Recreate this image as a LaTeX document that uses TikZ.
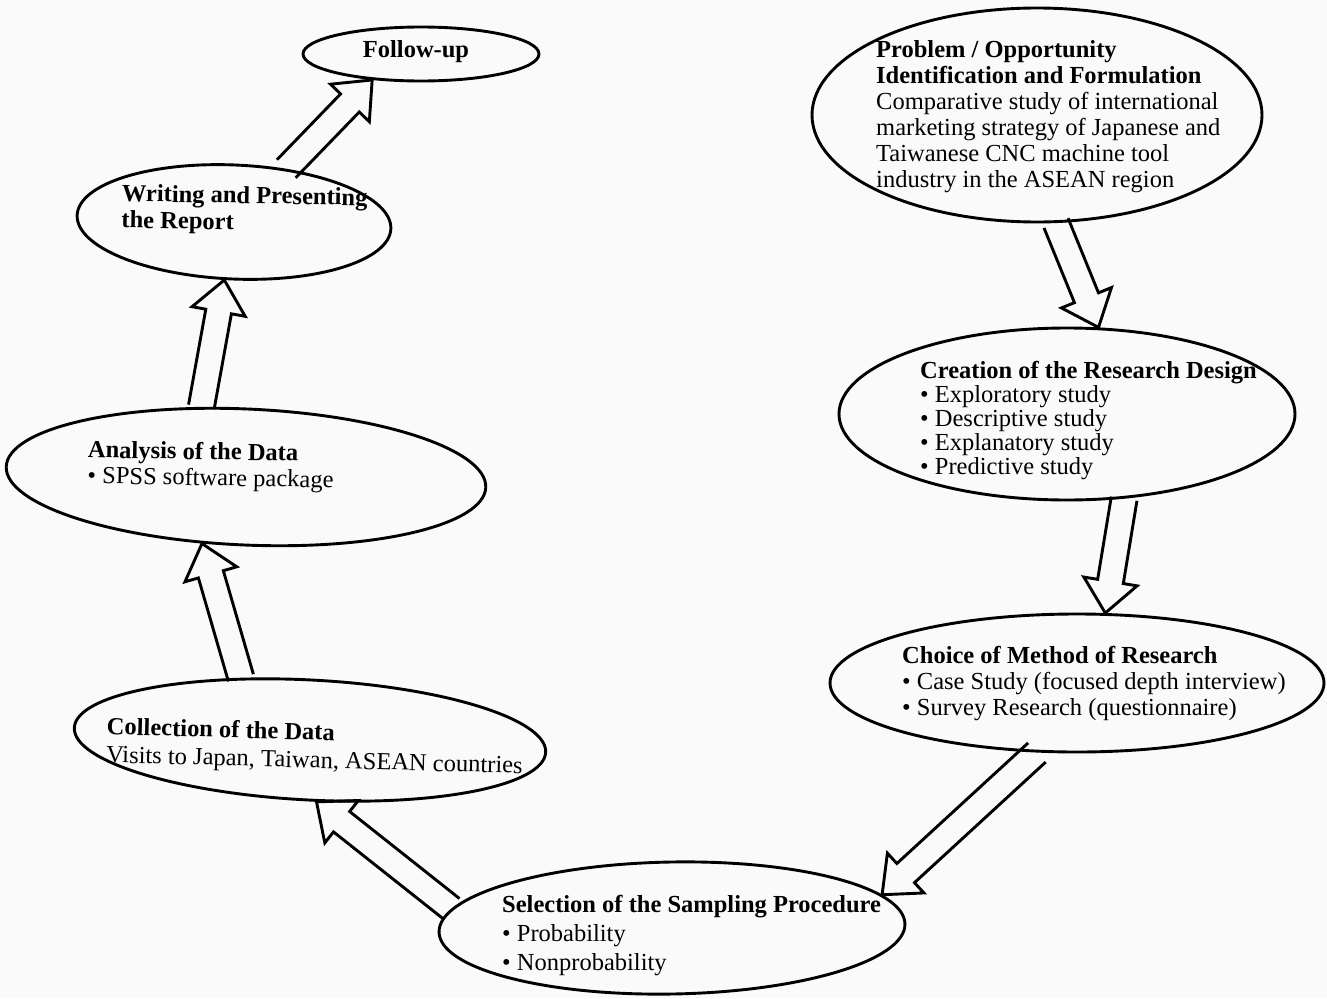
\documentclass[tikz,border=0pt]{standalone}
\usepackage{fontspec}
\setmainfont{Liberation Serif}
\usetikzlibrary{calc,shapes.geometric}
\tikzset{
  stage/.style={draw, ellipse, line width=2.9pt, inner sep=0pt},
  lbl/.style={anchor=north west, inner sep=0pt, align=left,
    font=\fontsize{24.5}{#1}\selectfont},
  lbl/.default=25,
  flow/.style={draw, line width=2.9pt, line join=miter},
}
% hollow block arrow from a border point #1 to a border point #2
\newcommand\blockarrow[2]{%
  \coordinate (ba-h) at ($(#2)!32pt!(#1)$);
  \draw[flow] ($(#1)!13pt!90:(#2)$) -- ($(ba-h)!13pt!90:(#2)$)
    -- ($(ba-h)!27pt!90:(#2)$) -- (#2) -- ($(ba-h)!27pt!-90:(#2)$)
    -- ($(ba-h)!13pt!-90:(#2)$) -- ($(#1)!13pt!-90:(#2)$);
}
\begin{document}
\begin{tikzpicture}[x=1pt,y=-1pt]
\useasboundingbox (0,0) rectangle (1327,998);
\fill[black!2] (0,0) rectangle (1327,998);

% stages of the research process
\node[stage, minimum width=236, minimum height=54] (follow) at (421,54) {};
\node[stage, minimum width=314, minimum height=114, rotate=-2.5] (write) at (234,222) {};
\node[stage, minimum width=450, minimum height=214] (prob) at (1037,115) {};
\node[stage, minimum width=456, minimum height=172] (design) at (1067,414) {};
\node[stage, minimum width=494, minimum height=138] (method) at (1077,683) {};
\node[stage, minimum width=480, minimum height=136, rotate=-2.5] (analysis) at (246,477) {};
\node[stage, minimum width=472, minimum height=120, rotate=-3] (collect) at (310,740) {};
\node[stage, minimum width=466, minimum height=132, rotate=1] (sample) at (672,928) {};

% labels
\node[font=\fontsize{24.5}{25}\selectfont\bfseries, inner sep=0pt] (t-follow) at (416,52) {Follow-up};
\node[lbl=26.5, rotate=-1] (t-write) at (122,184) {\textbf{Writing and Presenting}\\\textbf{the Report}};
\node[lbl=26] (t-prob) at (876,40) {\textbf{Problem / Opportunity}\\\textbf{Identification and Formulation}\\
  Comparative study of international\\marketing strategy of Japanese and\\
  Taiwanese CNC machine tool\\industry in the ASEAN region};
\node[lbl=24] (t-design) at (920,361) {\textbf{Creation of the Research Design}\\
  • Exploratory study\\• Descriptive study\\• Explanatory study\\• Predictive study};
\node[lbl=26, rotate=-1] (t-analysis) at (88,440) {\textbf{Analysis of the Data}\\• SPSS software package};
\node[lbl=26] (t-method) at (902,646) {\textbf{Choice of Method of Research}\\
  • Case Study (focused depth interview)\\• Survey Research (questionnaire)};
\node[lbl=28, rotate=-1.5] (t-collect) at (107,717) {\textbf{Collection of the Data}\\Visits to Japan, Taiwan, ASEAN countries};
\node[lbl=29] (t-sample) at (502,895) {\textbf{Selection of the Sampling Procedure}\\
  • Probability\\• Nonprobability};

% flow between the stages
\blockarrow{prob.-80.5}{design.70.2}
\blockarrow{design.-56.3}{method.68.5}
\blockarrow{method.-120.5}{sample.8}
\blockarrow{sample.174}{collect.-81}
\blockarrow{collect.141.4}{analysis.-121.6}
\blockarrow{analysis.125.8}{write.-97.3}
\blockarrow{write.48}{follow.-152.6}
\end{tikzpicture}
\end{document}
